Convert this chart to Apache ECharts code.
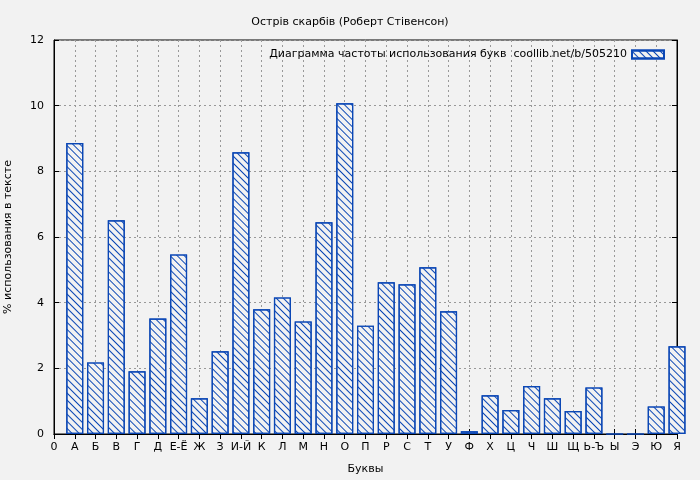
<!DOCTYPE html>
<html>
<head>
<meta charset="utf-8">
<script src="https://cdn.jsdelivr.net/npm/echarts@6/dist/echarts.min.js"></script>
<style>
  html, body { margin: 0; padding: 0; background: #f2f2f2; }
  #chart { width: 700px; height: 480px; }
</style>
</head>
<body>
<div id="chart"></div>
<script>
// буквы и частоты (%)
var letters = ["0", "А", "Б", "В", "Г", "Д", "Е-Ё", "Ж", "З", "И-Й", "К", "Л", "М", "Н", "О", "П",
    "Р", "С", "Т", "У", "Ф", "Х", "Ц", "Ч", "Ш", "Щ", "Ь-Ъ", "Ы", "Э", "Ю", "Я"];
var percents = [null, 8.86, 2.18, 6.51, 1.91, 3.52, 5.47, 1.09, 2.52, 8.58, 3.80, 4.16, 3.43, 6.45, 10.07, 3.30,
    4.62, 4.56, 5.08, 3.74, 0.08, 1.18, 0.73, 1.46, 1.09, 0.70, 1.42, 0, 0, 0.84, 2.67];
var yTicks = [0, 2, 4, 6, 8, 10, 12];

var font = "DejaVu Sans";
var blue = "#0b47b5";
var chart = echarts.init(document.getElementById('chart'));

var gridLine = { show: true, lineStyle: { color: '#999', type: [2, 3], width: 1 } };

var option = {
    backgroundColor: '#f2f2f2',
    animation: false,
    title: {
        text: 'Острів скарбів (Роберт Стівенсон)',
        left: 'center',
        top: 12,
        textStyle: { fontFamily: font, fontSize: 11, fontWeight: 'normal', color: '#000' }
    },
    legend: {
        right: 30,
        top: 44,
        align: 'right',
        icon: 'rect',
        itemWidth: 32,
        itemHeight: 8,
        textStyle: { fontFamily: font, fontSize: 11, color: '#000' },
        data: ['Диаграмма частоты использования букв  coollib.net/b/505210']
    },
    grid: { left: 54, right: 23, top: 40, bottom: 46, containLabel: false, outerBoundsMode: 'none',
        show: true, borderColor: '#000', borderWidth: 1 },
    xAxis: [{
        type: 'category',
        data: letters,
        boundaryGap: false,
        name: 'Буквы',
        nameLocation: 'middle',
        nameGap: 30,
        nameTextStyle: { fontFamily: font, fontSize: 11, color: '#000' },
        axisLine: { lineStyle: { color: '#000' } },
        axisTick: { inside: true, length: 5, lineStyle: { color: '#000' } },
        axisLabel: { fontFamily: font, fontSize: 11, color: '#000', interval: 0, margin: 8 },
        splitLine: gridLine
    }, {
        type: 'category',
        data: letters,
        boundaryGap: false,
        position: 'top',
        axisLine: { lineStyle: { color: '#000' } },
        axisTick: { inside: true, length: 5, interval: 0, lineStyle: { color: '#000' } },
        axisLabel: { show: false }
    }],
    yAxis: [{
        type: 'value',
        min: yTicks[0],
        max: yTicks[yTicks.length - 1],
        interval: 2,
        name: '% использования в тексте',
        nameLocation: 'middle',
        nameGap: 40,
        nameTextStyle: { fontFamily: font, fontSize: 11, color: '#000' },
        axisLine: { show: true, lineStyle: { color: '#000' } },
        axisTick: { show: true, inside: true, length: 5, lineStyle: { color: '#000' } },
        axisLabel: { fontFamily: font, fontSize: 11, color: '#000', margin: 10 },
        splitLine: gridLine
    }, {
        type: 'value',
        min: yTicks[0],
        max: yTicks[yTicks.length - 1],
        interval: 2,
        position: 'right',
        axisLine: { show: true, lineStyle: { color: '#000' } },
        axisTick: { show: true, inside: true, length: 5, lineStyle: { color: '#000' } },
        axisLabel: { show: false },
        splitLine: { show: false }
    }],
    series: [{
        name: 'Диаграмма частоты использования букв  coollib.net/b/505210',
        type: 'bar',
        data: percents,
        barWidth: 17,
        clip: true,
        itemStyle: {
            color: '#f2f2f2',
            borderColor: blue,
            borderWidth: 1.2,
            decal: {
                symbol: 'rect',
                symbolSize: 1,
                color: blue,
                dashArrayX: [1, 0],
                dashArrayY: [1, 4],
                rotation: Math.PI / 4
            }
        }
    }]
};

chart.setOption(option);
</script>
</body>
</html>
